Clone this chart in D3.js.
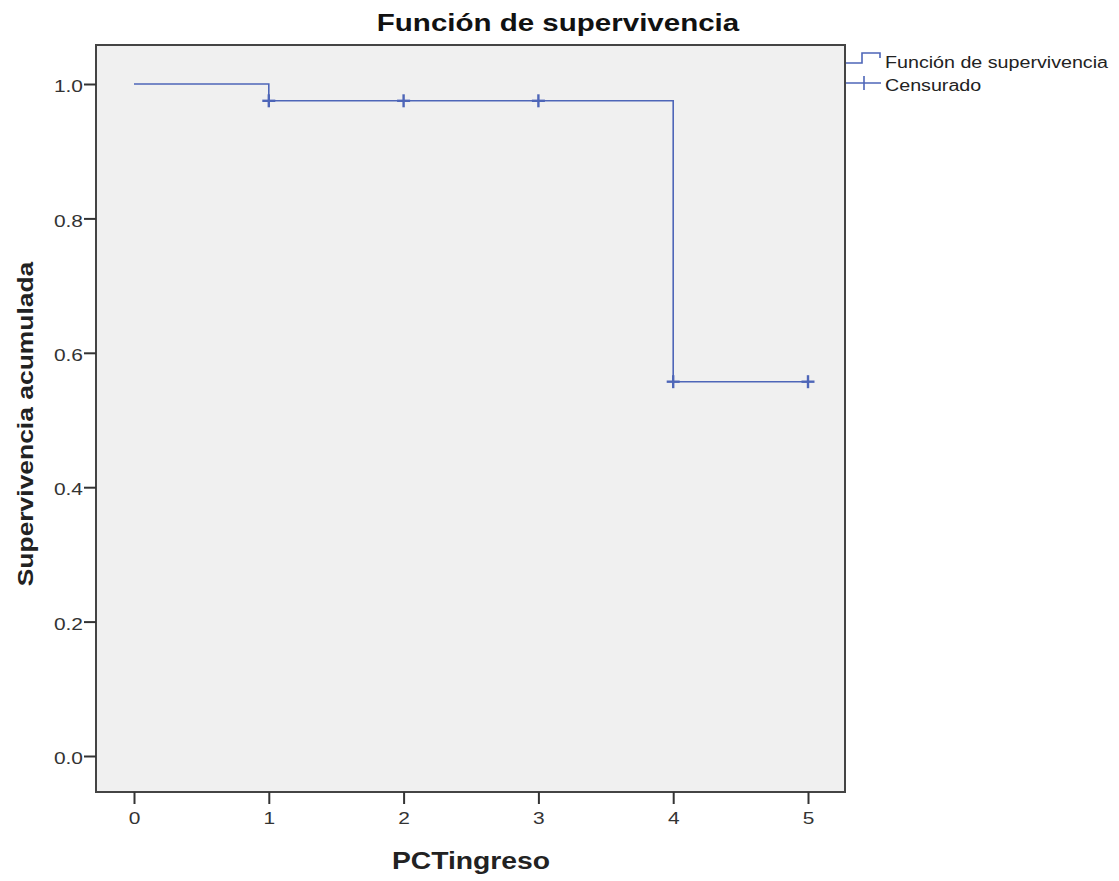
<!DOCTYPE html>
<html>
<head>
<meta charset="utf-8">
<script src="https://cdn.jsdelivr.net/npm/d3@7"></script>
<style>
  body { margin: 0; background: #fff; }
  text { font-family: Arial, "Liberation Sans", sans-serif; }
</style>
</head>
<body>
<svg id="chart" width="1119" height="881"></svg>
<script>
// survival step function (time, cumulative survival)
const stepTimes = [0, 1, 4, 5];
const stepSurv = [1.0, 0.975, 0.557, 0.557];
// censored cases
const censTimes = [1, 2, 3, 4, 5];
const censSurv = [0.975, 0.975, 0.975, 0.557, 0.557];
const xTicks = [0, 1, 2, 3, 4, 5];
const yTicks = [0.0, 0.2, 0.4, 0.6, 0.8, 1.0];

const blue = "#4e66b8";
const wide = 1.23; // the source font runs wider than Arial
const svg = d3.select("#chart");

const plotL = 96, plotR = 845, plotT = 45, plotB = 792;

const x = d3.scaleLinear().domain([0, 5]).range([134, 808]);
const y = d3.scaleLinear().domain([0, 1]).range([756, 84]);

// plot background
svg.append("rect")
  .attr("x", plotL).attr("y", plotT)
  .attr("width", plotR - plotL).attr("height", plotB - plotT)
  .attr("fill", "#f0f0f0")
  .attr("stroke", "#444").attr("stroke-width", 2);

// axes
const xAxis = svg.append("g")
  .attr("transform", `translate(0,${plotB})`)
  .call(d3.axisBottom(x).tickValues(xTicks).tickFormat(d3.format("d")).tickSize(12).tickPadding(8));
const yAxis = svg.append("g")
  .attr("transform", `translate(${plotL},0)`)
  .call(d3.axisLeft(y).tickValues(yTicks).tickFormat(d3.format(".1f")).tickSize(12).tickPadding(2));
[xAxis, yAxis].forEach(g => {
  g.select(".domain").remove();
  g.selectAll(".tick line").attr("stroke", "#333").attr("stroke-width", 2);
  g.selectAll(".tick text").attr("fill", "#333").style("font-size", "17px")
    .style("font-family", "Arial, 'Liberation Sans', sans-serif");
});
xAxis.selectAll(".tick text").attr("transform", `scale(${wide},1)`);
yAxis.selectAll(".tick text").attr("x", 0).attr("dy", "0.45em")
  .attr("transform", `translate(-13,0) scale(${wide},1)`);

// step line
const pts = stepTimes.map((t, i) => [t, stepSurv[i]]);
const line = d3.line().x(d => x(d[0])).y(d => y(d[1])).curve(d3.curveStepAfter);
svg.append("path")
  .datum(pts)
  .attr("d", line)
  .attr("fill", "none")
  .attr("stroke", blue)
  .attr("stroke-width", 1.6);

// censor marks
const cs = 6.5;
const marks = svg.append("g").selectAll("g")
  .data(censTimes.map((t, i) => [t, censSurv[i]]))
  .join("g")
  .attr("transform", d => `translate(${x(d[0])},${y(d[1])})`);
marks.append("line").attr("x1", -cs).attr("x2", cs).attr("y1", 0).attr("y2", 0)
  .attr("stroke", blue).attr("stroke-width", 2.4);
marks.append("line").attr("x1", 0).attr("x2", 0).attr("y1", -cs).attr("y2", cs)
  .attr("stroke", blue).attr("stroke-width", 2.4);

// title and axis labels
svg.append("text")
  .attr("transform", `translate(558,31) scale(${wide},1)`)
  .attr("text-anchor", "middle")
  .style("font-size", "24px").style("font-weight", "bold")
  .attr("fill", "#111")
  .text("Función de supervivencia");

svg.append("text")
  .attr("transform", `translate(471,869) scale(${wide},1)`)
  .attr("text-anchor", "middle")
  .style("font-size", "23px").style("font-weight", "bold")
  .attr("fill", "#222")
  .text("PCTingreso");

svg.append("text")
  .attr("transform", `translate(33,424) rotate(-90) scale(${wide},1)`)
  .attr("text-anchor", "middle")
  .style("font-size", "21.5px").style("font-weight", "bold")
  .attr("fill", "#222")
  .text("Supervivencia acumulada");

// legend
const lg = svg.append("g");
lg.append("path")
  .attr("d", "M846,63 H862 V53 H880 V58")
  .attr("fill", "none").attr("stroke", blue).attr("stroke-width", 1.6);
lg.append("line").attr("x1", 846).attr("x2", 881).attr("y1", 83).attr("y2", 83)
  .attr("stroke", blue).attr("stroke-width", 1.6);
lg.append("line").attr("x1", 864).attr("x2", 864).attr("y1", 76).attr("y2", 90)
  .attr("stroke", blue).attr("stroke-width", 1.6);
lg.append("text").attr("transform", `translate(885,68) scale(${wide},1)`)
  .style("font-size", "16px").attr("fill", "#222").text("Función de supervivencia");
lg.append("text").attr("transform", `translate(885,91) scale(${wide},1)`)
  .style("font-size", "16px").attr("fill", "#222").text("Censurado");
</script>
</body>
</html>
